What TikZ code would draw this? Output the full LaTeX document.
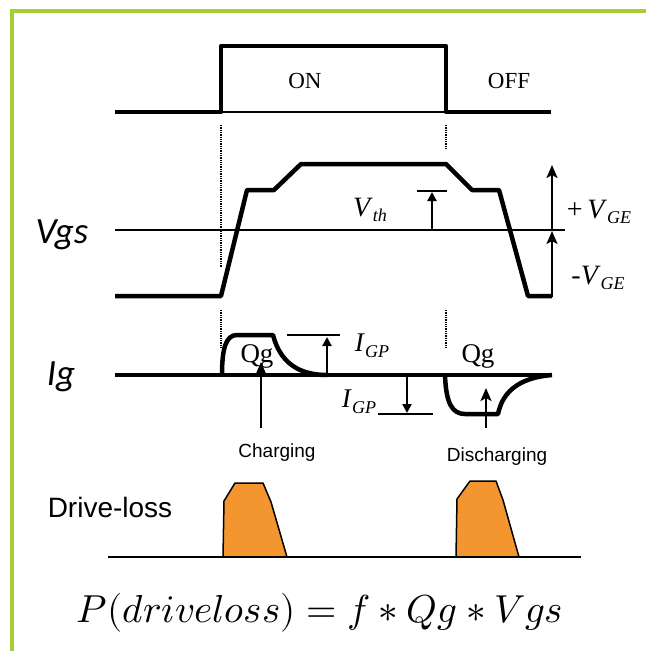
\documentclass[tikz,border=0pt]{standalone}
\usepackage{fontspec}
\usepackage{unicode-math}
\setmainfont{Liberation Serif}
\setmathfont{Latin Modern Math}
\newfontfamily\arialf{Liberation Sans}
\newfontfamily\calf{Carlito}
\usetikzlibrary{arrows.meta}
\definecolor{framegreen}{RGB}{166,206,57}
\definecolor{lossorange}{RGB}{244,150,48}
\newcommand{\fs}[1]{\fontsize{#1}{#1}\selectfont}
\newcommand{\sub}[1]{\raisebox{-0.45ex}{\fs{18}\textit{#1}}}
\begin{document}
\begin{tikzpicture}[x=1pt,y=-1pt,
  wave/.style={line width=4.5pt,line join=round},
  refline/.style={line width=2pt},
  guide/.style={line width=2pt,dash pattern=on 1.3pt off 1pt},
  arr/.style={line width=2.2pt,-{Stealth[length=13pt,width=11pt,inset=3pt]}},
  sarr/.style={line width=2.2pt,-{Triangle[length=9pt,width=9pt]}},
  lbl/.style={inner sep=0pt,anchor=center},
  lossbox/.style={fill=lossorange,draw=black,line width=1.5pt,line join=round}]
\useasboundingbox (0,0) rectangle (646,651);
\fill[white] (0,0) rectangle (646,651);
% frame
\draw[framegreen,line width=4pt] (12,651) -- (12,11) -- (646,11);

% ---------- gate command ----------
\draw[wave] (115,112) -- (221,112) -- (221,46) -- (446,46) -- (446,112) -- (551,112);
\draw[line width=2pt] (221,112) -- (446,112);
\node[lbl] (on) at (305,81) {\fs{23}ON};
\node[lbl] (off) at (509,81) {\fs{23}OFF};

% guide lines
\draw[guide] (221,125) -- (221,267);
\draw[guide] (446,125) -- (446,150);
\draw[guide] (221,310) -- (221,347);
\draw[guide] (446,310) -- (446,347);

% ---------- Vgs ----------
\node[lbl] (vgs) at (62,235) {\calf\itshape\fs{37}Vgs};
\draw[refline] (115,230) -- (565,230);
\draw[wave] (115,296) -- (221,296) -- (247,190) -- (274,190) -- (301,164)
  -- (446,164) -- (472,190) -- (499,190) -- (528,296) -- (552,296);
% Vth
\coordinate (vthb) at (432,230);
\coordinate (vtht) at (432,192);
\draw[refline] (417,191) -- (447,191);
\draw[sarr] (vthb) -- (vtht);
\node[lbl] (vth) at (370,210) {\fs{28}\textit{V}\sub{th}};
% VGE arrows
\coordinate (vge0) at (552,297);
\coordinate (vge1) at (552,231);
\coordinate (vge2) at (552,165);
\draw[arr] (vge0) -- (vge1);
\draw[arr] (vge1) -- (vge2);
\node[lbl] (pvge) at (599,212) {\fs{28}+\,\textit{V}\sub{GE}};
\node[lbl] (mvge) at (598,278) {\fs{28}-\textit{V}\sub{GE}};

% ---------- Ig ----------
\node[lbl] (ig) at (61,377) {\calf\itshape\fs{37}Ig};
\draw[wave] (115,375) -- (552,375);
\draw[wave] (222,375) .. controls (222,348) and (226,335) .. (237,335)
  -- (273,335) .. controls (280,362) and (298,375) .. (327,375);
\draw[wave] (445,375) .. controls (446,403) and (452,414) .. (465,414)
  -- (498,414) .. controls (502,395) and (515,378) .. (552,375);
% IGP upper
\draw[refline] (287,335) -- (340,335);
\coordinate (igpa) at (327,375);
\coordinate (igpb) at (327,337);
\draw[sarr] (igpa) -- (igpb);
\node[lbl] (igp1) at (372,346) {\fs{27}\textit{I}\sub{GP}};
% IGP lower
\draw[refline] (378,414) -- (433,414);
\coordinate (igpc) at (407,376);
\coordinate (igpd) at (407,413);
\draw[sarr] (igpc) -- (igpd);
\node[lbl] (igp2) at (359,402) {\fs{27}\textit{I}\sub{GP}};
% Qg and charging
\node[lbl] (qg1) at (257,356) {\fs{27}Qg};
\node[lbl] (qg2) at (478,356) {\fs{27}Qg};
\coordinate (cha) at (261,428);
\coordinate (chb) at (261,362);
\draw[arr] (cha) -- (chb);
\coordinate (dca) at (486,428);
\coordinate (dcb) at (486,388);
\draw[arr] (dca) -- (dcb);
\node[lbl] (charging) at (277,453) {\arialf\fs{19}Charging};
\node[lbl] (discharging) at (497,457) {\arialf\fs{19}Discharging};

% ---------- drive loss ----------
\node[lbl] (dl) at (110,507) {\arialf\fs{28}Drive-loss};
\draw[lossbox] (223,557) -- (224,501) -- (235,483) -- (263,483) -- (271,502) -- (287,557) -- cycle;
\draw[lossbox] (456,557) -- (457,499) -- (470,481) -- (496,481) -- (503,500) -- (519,557) -- cycle;
\draw[line width=2pt] (108,557) -- (581,557);

% ---------- equation ----------
\node[lbl] (eq) at (320,613) {\fs{39}$P(driveloss)=f*Qg*Vgs$};
\end{tikzpicture}
\end{document}
